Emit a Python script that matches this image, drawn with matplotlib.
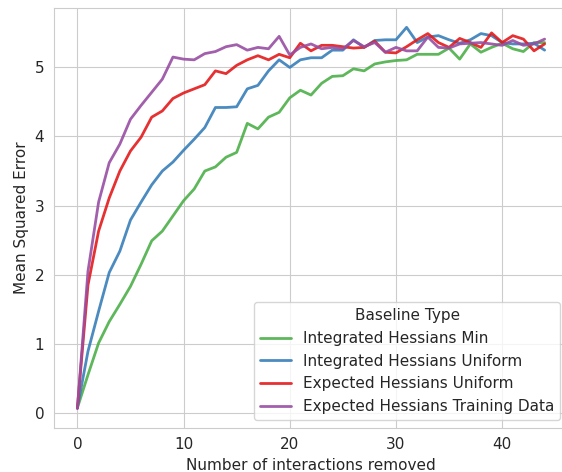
import numpy as np
import matplotlib
matplotlib.use('Agg')
import matplotlib.pyplot as plt
import seaborn as sns


n_removed = np.arange(45)

ih_min = [0.07, 0.55, 1.01, 1.32, 1.57, 1.83, 2.15, 2.49, 2.63, 2.85,
          3.07, 3.24, 3.50, 3.56, 3.70, 3.77, 4.19, 4.11, 4.28, 4.35,
          4.56, 4.67, 4.60, 4.77, 4.87, 4.88, 4.98, 4.95, 5.05, 5.08,
          5.10, 5.11, 5.19, 5.19, 5.19, 5.28, 5.12, 5.34, 5.22, 5.29,
          5.35, 5.27, 5.23, 5.36, 5.36]
ih_uniform = [0.07, 0.89, 1.47, 2.03, 2.34, 2.79, 3.05, 3.30, 3.50, 3.63,
              3.80, 3.96, 4.13, 4.42, 4.42, 4.43, 4.69, 4.74, 4.95, 5.11,
              5.00, 5.11, 5.14, 5.14, 5.25, 5.25, 5.40, 5.29, 5.39, 5.40,
              5.40, 5.58, 5.36, 5.44, 5.46, 5.40, 5.35, 5.40, 5.49, 5.46,
              5.36, 5.34, 5.34, 5.35, 5.25]
eh_uniform = [0.07, 1.85, 2.63, 3.11, 3.50, 3.79, 3.99, 4.28, 4.37, 4.55,
              4.63, 4.69, 4.75, 4.95, 4.91, 5.03, 5.11, 5.17, 5.11, 5.19,
              5.14, 5.35, 5.24, 5.32, 5.32, 5.30, 5.28, 5.29, 5.38, 5.22,
              5.21, 5.30, 5.40, 5.49, 5.36, 5.29, 5.42, 5.36, 5.29, 5.50,
              5.36, 5.46, 5.41, 5.24, 5.34]
eh_training = [0.06, 2.05, 3.05, 3.62, 3.89, 4.25, 4.45, 4.64, 4.83, 5.15,
               5.12, 5.11, 5.20, 5.23, 5.30, 5.33, 5.25, 5.29, 5.27, 5.45,
               5.18, 5.29, 5.34, 5.27, 5.29, 5.27, 5.39, 5.30, 5.36, 5.22,
               5.29, 5.24, 5.24, 5.44, 5.29, 5.28, 5.34, 5.35, 5.36, 5.34,
               5.32, 5.39, 5.32, 5.34, 5.41]

labels = ['Integrated Hessians Min', 'Integrated Hessians Uniform',
          'Expected Hessians Uniform', 'Expected Hessians Training Data']
colors = ['#4daf4a', '#377eb8', '#e41a1c', '#984ea3']

sns.set_style('whitegrid')
plt.rcParams['font.size'] = 11

fig = plt.figure(figsize=(5.62, 4.72), dpi=100)
# axes runs a little past the right edge, as in the original crop
ax = fig.add_axes([54 / 562, 1 - 427.7 / 472, 514 / 562, 419.4 / 472])

for ys, lab, col in zip([ih_min, ih_uniform, eh_uniform, eh_training],
                        labels, colors):
    ax.plot(n_removed, ys, color=col, lw=2, label=lab, alpha=0.9)

ax.set_xlabel('Number of interactions removed')
ax.set_ylabel('Mean Squared Error')
ax.legend(title='Baseline Type', loc='lower right', title_fontsize=11)

fig.savefig('out.png', dpi=100)
